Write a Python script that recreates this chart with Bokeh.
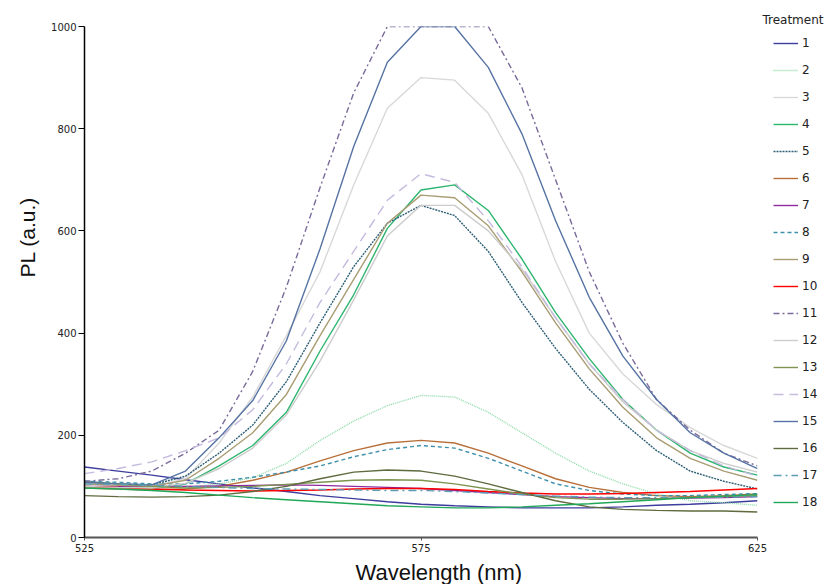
from bokeh.plotting import figure
from bokeh.models import Legend, LegendItem, Title, Range1d, FixedTicker
from bokeh.embed import file_html
from bokeh.resources import INLINE

wavelength = [525, 530, 535, 540, 545, 550, 555, 560, 565, 570, 575,
              580, 585, 590, 595, 600, 605, 610, 615, 620, 625]

s1 = [138, 130, 122, 113, 105, 97, 90, 82, 76, 70, 65, 62, 60, 58, 58, 58, 60, 63, 65, 68, 72]
s2 = [100, 98, 97, 98, 105, 117, 145, 190, 228, 258, 278, 275, 245, 205, 165, 130, 105, 85, 72, 68, 63]
s3 = [105, 100, 100, 115, 185, 275, 395, 520, 690, 840, 900, 895, 830, 710, 540, 400, 320, 260, 215, 180, 155]
s4 = [100, 98, 96, 105, 140, 180, 245, 365, 475, 605, 680, 690, 640, 545, 440, 350, 270, 210, 165, 138, 122]
s5 = [110, 105, 103, 120, 165, 220, 305, 420, 530, 615, 650, 630, 560, 460, 370, 290, 225, 170, 130, 110, 95]
s6 = [97, 95, 93, 95, 100, 112, 128, 150, 170, 185, 190, 185, 165, 140, 115, 98, 88, 82, 80, 82, 85]
s7 = [100, 100, 100, 100, 101, 102, 103, 102, 100, 98, 96, 92, 88, 84, 80, 78, 76, 76, 77, 78, 80]
s8 = [110, 108, 105, 105, 110, 118, 128, 140, 158, 172, 180, 175, 155, 130, 105, 92, 85, 82, 82, 84, 86]
s9 = [105, 102, 100, 112, 155, 205, 280, 395, 505, 615, 670, 665, 610, 520, 420, 330, 255, 195, 155, 130, 112]
s10 = [100, 98, 95, 93, 92, 91, 92, 93, 95, 96, 96, 94, 90, 87, 85, 85, 86, 88, 90, 93, 96]
s11 = [110, 115, 130, 165, 210, 325, 490, 685, 870, 1000, 1000, 1000, 1000, 880, 700, 520, 380, 270, 210, 165, 140]
s12 = [100, 98, 97, 106, 135, 175, 240, 345, 465, 590, 650, 650, 600, 525, 430, 340, 265, 210, 170, 145, 128]
s13 = [108, 105, 100, 97, 98, 100, 104, 108, 112, 113, 112, 105, 95, 85, 78, 75, 75, 76, 78, 80, 82]
s14 = [125, 135, 148, 170, 195, 250, 340, 460, 560, 660, 712, 695, 620, 530, 430, 340, 270, 210, 170, 140, 120]
s15 = [108, 105, 103, 130, 195, 268, 385, 565, 765, 930, 1000, 1000, 920, 790, 620, 470, 355, 270, 205, 165, 135]
s16 = [82, 80, 79, 80, 83, 90, 100, 115, 128, 132, 130, 120, 105, 88, 72, 60, 55, 53, 52, 52, 50]
s17 = [105, 104, 102, 100, 98, 96, 95, 94, 93, 92, 92, 90, 87, 84, 81, 79, 78, 78, 78, 79, 80]
s18 = [97, 95, 92, 88, 83, 78, 74, 70, 66, 62, 60, 58, 58, 60, 63, 66, 70, 74, 78, 81, 84]

series_names = [str(i) for i in range(1, 19)]
series_values = [s1, s2, s3, s4, s5, s6, s7, s8, s9, s10, s11, s12, s13, s14, s15, s16, s17, s18]
colors = ["#3D3D9E", "#8FDBAA", "#D8D8D8", "#2DB56E", "#2E5F76", "#B8703A",
          "#8E2A9E", "#3E8FAA", "#A89C72", "#FF0000", "#7A6A9A", "#CCCCCC",
          "#7D9550", "#C6BADE", "#5673A3", "#5F6B3E", "#5B9DB3", "#20A858"]
dashes = ["solid", "1 1", "solid", "solid", "2 1", "solid", "solid", "4 3", "solid",
          "solid", "6 3 2 3", "solid", "solid", "10 6", "solid", "solid", "8 4 2 4", "solid"]

x_ticks = [525, 575, 625]
y_ticks = [0, 200, 400, 600, 800, 1000]

p = figure(frame_width=673, frame_height=511, min_border_left=84, min_border_top=26,
           min_border_bottom=47, min_border_right=71, output_backend="svg",
           toolbar_location=None, x_range=Range1d(525, 625), y_range=Range1d(0, 1000))
p.outline_line_color = None
p.xgrid.grid_line_color = None
p.ygrid.grid_line_color = None

items = []
for name, vals, c, d in zip(series_names, series_values, colors, dashes):
    r = p.line(wavelength, vals, line_color=c, line_width=1.4, line_dash=d)
    items.append(LegendItem(label=name, renderers=[r]))

p.xaxis.ticker = FixedTicker(ticks=x_ticks)
p.yaxis.ticker = FixedTicker(ticks=y_ticks)
for ax in (p.xaxis, p.yaxis):
    ax.major_label_text_font = "DejaVu Sans"
    ax.major_label_text_font_size = "10px"
    ax.major_label_text_color = "#222222"
    ax.minor_tick_line_color = None
    ax.major_tick_in = 0
p.yaxis.axis_line_color = "black"
p.yaxis.axis_line_width = 1.5
p.yaxis.major_tick_out = 6
p.yaxis.major_label_standoff = 2
p.xaxis.axis_line_color = "#555555"
p.xaxis.axis_line_width = 2
p.xaxis.major_tick_line_color = "#555555"
p.xaxis.major_tick_out = 3
p.xaxis.major_label_standoff = 3

legend = Legend(items=items, location=(16, 25), glyph_width=25, glyph_height=20,
                label_height=20, spacing=7, padding=0, margin=0, label_standoff=4,
                label_text_font="DejaVu Sans", label_text_font_size="12px",
                label_text_color="#222222", border_line_color=None,
                background_fill_alpha=0)
p.add_layout(legend, "right")

p.add_layout(Title(text="Treatment", align="right", offset=-66, standoff=0,
                   text_font="DejaVu Sans", text_font_size="12px", text_color="#222222",
                   text_font_style="normal"), "above")
p.add_layout(Title(text="PL (a.u.)", align="left", offset=260, standoff=19,
                   text_font="Liberation Sans", text_font_size="21px", text_color="#111111",
                   text_font_style="normal"), "left")
p.add_layout(Title(text="Wavelength (nm)", align="left", offset=271, standoff=6,
                   text_font="Liberation Sans", text_font_size="22px", text_color="#111111",
                   text_font_style="normal"), "below")

open("out.html", "w").write(file_html(p, INLINE))
